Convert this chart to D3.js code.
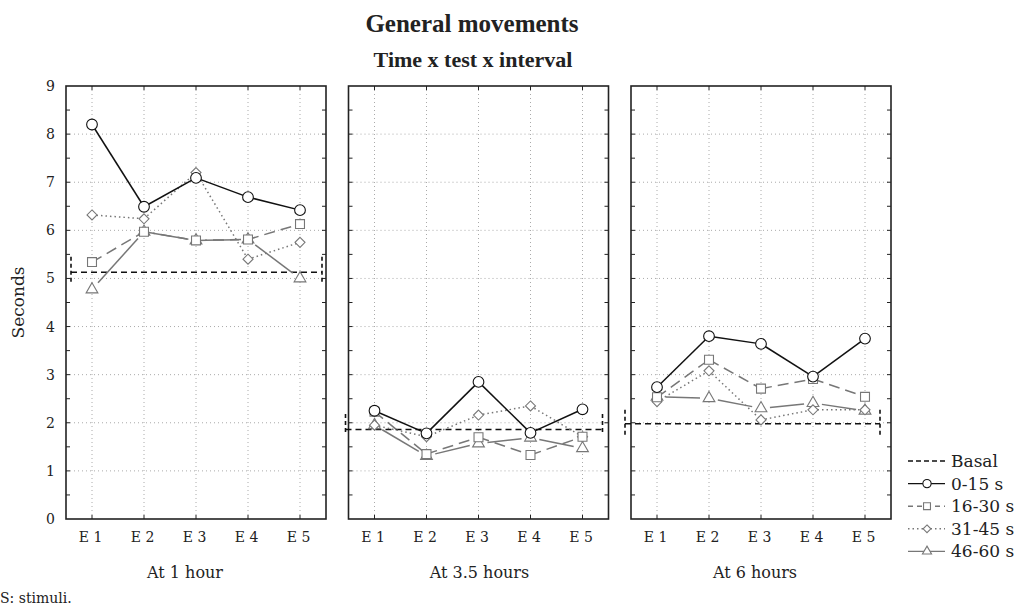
<!DOCTYPE html>
<html>
<head>
<meta charset="utf-8">
<script src="https://cdn.jsdelivr.net/npm/d3@7"></script>
<style>
  body { margin: 0; background: #fff; }
  text { font-family: "DejaVu Serif", serif; fill: #222; }
  .title { font-family: "Liberation Serif", serif; font-weight: bold; }
</style>
</head>
<body>
<div id="chart"></div>
<script>
// chart data
var panels = ["At 1 hour", "At 3.5 hours", "At 6 hours"];
var tests = ["E 1", "E 2", "E 3", "E 4", "E 5"];
var seriesNames = ["0-15 s", "16-30 s", "31-45 s", "46-60 s"];
var yTicks = [0, 1, 2, 3, 4, 5, 6, 7, 8, 9];

// values per panel, E1..E5
var s0to15 = [
  [8.2, 6.49, 7.09, 6.69, 6.42],
  [2.25, 1.78, 2.85, 1.79, 2.28],
  [2.74, 3.80, 3.64, 2.96, 3.75]
];
var s16to30 = [
  [5.34, 5.97, 5.79, 5.81, 6.13],
  [2.23, 1.35, 1.70, 1.33, 1.71],
  [2.53, 3.31, 2.71, 2.91, 2.54]
];
var s31to45 = [
  [6.32, 6.24, 7.20, 5.40, 5.75],
  [1.95, 1.71, 2.16, 2.35, 1.71],
  [2.44, 3.08, 2.06, 2.27, 2.27]
];
var s46to60 = [
  [4.77, 5.97, 5.79, 5.81, 5.00],
  [1.95, 1.31, 1.57, 1.69, 1.47],
  [2.54, 2.51, 2.30, 2.41, 2.25]
];
var basal = [5.13, 1.86, 1.98];
var basalHigh = [5.45, 2.18, 2.27];
var basalLow = [4.91, 1.81, 1.75];

var svgWidth = 1019;
var svgHeight = 608;

var svg = d3.select("#chart")
  .append("svg")
  .attr("width", svgWidth)
  .attr("height", svgHeight);

var panelLeft = [66, 348.5, 631];
var panelWidth = 260;
var plotTop = 86, plotBottom = 519;

// basal line horizontal extent, offsets from panel edges
var basalExtent = [[5, -4], [-3, -6], [-6, -11]];
// panel label nudges, as in the original
var labelShift = [-11, 1, -6];

var y = d3.scaleLinear().domain([0, 9]).range([plotBottom, plotTop]);

// diamond = square turned 45 degrees
var diamond = {
  draw: function(context, size) {
    var r = Math.sqrt(size) / Math.SQRT2;
    context.moveTo(0, -r);
    context.lineTo(r, 0);
    context.lineTo(0, r);
    context.lineTo(-r, 0);
    context.closePath();
  }
};

var styles = [
  { data: s0to15, color: "#111", dash: null, legendDash: null, shape: d3.symbolCircle, size: 90, gap: 0 },
  { data: s16to30, color: "#777", dash: "11,6", legendDash: "5,4", shape: d3.symbolSquare, size: 80, gap: 0 },
  { data: s31to45, color: "#777", dash: "1.5,3", legendDash: "1.5,3", shape: diamond, size: 50, gap: 0 },
  { data: s46to60, color: "#777", dash: null, legendDash: null, shape: d3.symbolTriangle, size: 60, gap: 9 }
];

// titles
svg.append("text")
  .attr("class", "title")
  .attr("x", 472).attr("y", 32)
  .attr("text-anchor", "middle")
  .attr("font-size", "25px")
  .text("General movements");

svg.append("text")
  .attr("class", "title")
  .attr("x", 473).attr("y", 67)
  .attr("text-anchor", "middle")
  .attr("font-size", "22px")
  .text("Time x test x interval");

// y axis title
svg.append("text")
  .attr("transform", "translate(24," + (plotTop + plotBottom) / 2 + ") rotate(-90)")
  .attr("text-anchor", "middle")
  .attr("font-size", "17px")
  .text("Seconds");

panels.forEach(function(name, p) {
  var x0 = panelLeft[p];
  var x = d3.scalePoint().domain(tests).range([x0, x0 + panelWidth]).padding(0.5);
  var g = svg.append("g");

  // dotted grid
  g.selectAll(".hgrid")
    .data(yTicks.slice(1, -1))
    .enter().append("line")
    .attr("x1", x0).attr("x2", x0 + panelWidth)
    .attr("y1", d => y(d)).attr("y2", d => y(d))
    .attr("stroke", "#aaa").attr("stroke-dasharray", "1,3");

  g.selectAll(".vgrid")
    .data(tests)
    .enter().append("line")
    .attr("x1", d => x(d)).attr("x2", d => x(d))
    .attr("y1", plotTop).attr("y2", plotBottom)
    .attr("stroke", "#aaa").attr("stroke-dasharray", "1,3");

  // inward ticks on all sides
  var halfTicks = d3.range(0.5, 9, 0.5);
  [x0, x0 + panelWidth].forEach(function(ex, i) {
    var dir = i === 0 ? 1 : -1;
    g.selectAll(null).data(halfTicks).enter().append("line")
      .attr("x1", ex).attr("x2", ex + dir * 4)
      .attr("y1", d => y(d)).attr("y2", d => y(d))
      .attr("stroke", "#222");
  });
  [plotTop, plotBottom].forEach(function(ey, i) {
    var dir = i === 0 ? 1 : -1;
    g.selectAll(null).data(tests).enter().append("line")
      .attr("x1", d => x(d)).attr("x2", d => x(d))
      .attr("y1", ey).attr("y2", ey + dir * 4)
      .attr("stroke", "#222");
  });

  // frame
  g.append("rect")
    .attr("x", x0).attr("y", plotTop)
    .attr("width", panelWidth).attr("height", plotBottom - plotTop)
    .attr("fill", "none").attr("stroke", "#222").attr("stroke-width", 1.6);

  // y labels on first panel only
  if (p === 0) {
    var yAxis = d3.axisLeft(y).tickValues(yTicks).tickSize(0).tickPadding(11);
    var ya = svg.append("g")
      .attr("transform", "translate(" + x0 + ",0)")
      .call(yAxis);
    ya.select(".domain").remove();
    ya.selectAll("text")
      .attr("font-size", "14px")
      .style("font-family", "DejaVu Serif, serif")
      .attr("fill", "#222");
  }

  // x tick labels
  var xAxis = d3.axisBottom(x).tickSize(0).tickPadding(13);
  var xa = svg.append("g")
    .attr("transform", "translate(-2," + plotBottom + ")")
    .call(xAxis);
  xa.select(".domain").remove();
  xa.selectAll("text")
    .attr("font-size", "14px")
    .style("font-family", "DejaVu Serif, serif")
    .attr("fill", "#222");

  // panel label
  svg.append("text")
    .attr("x", x0 + panelWidth / 2 + labelShift[p]).attr("y", 578)
    .attr("text-anchor", "middle")
    .attr("font-size", "16px")
    .text(name);

  // basal line with dashed end marks
  var bx1 = x0 + basalExtent[p][0];
  var bx2 = x0 + panelWidth + basalExtent[p][1];
  g.append("line")
    .attr("x1", bx1).attr("x2", bx2)
    .attr("y1", y(basal[p])).attr("y2", y(basal[p]))
    .attr("stroke", "#111").attr("stroke-width", 1.6)
    .attr("stroke-dasharray", "6,4");
  [bx1, bx2].forEach(function(bx) {
    g.append("line")
      .attr("x1", bx).attr("x2", bx)
      .attr("y1", y(basalHigh[p])).attr("y2", y(basalLow[p]))
      .attr("stroke", "#111").attr("stroke-width", 1.6)
      .attr("stroke-dasharray", "4,3");
  });

  // series lines then markers
  styles.slice().reverse().forEach(function(s) {
    var pts = s.data[p].map((v, i) => [x(tests[i]), y(v)]);
    for (var i = 0; i < pts.length - 1; i++) {
      var a = pts[i], b = pts[i + 1];
      var dx = b[0] - a[0], dy = b[1] - a[1];
      var len = Math.sqrt(dx * dx + dy * dy);
      var k = s.gap / len;
      g.append("line")
        .attr("x1", a[0] + dx * k).attr("y1", a[1] + dy * k)
        .attr("x2", b[0] - dx * k).attr("y2", b[1] - dy * k)
        .attr("stroke", s.color).attr("stroke-width", 1.5)
        .attr("stroke-dasharray", s.dash);
    }
  });
  styles.slice().reverse().forEach(function(s) {
    g.selectAll(null)
      .data(s.data[p])
      .enter().append("path")
      .attr("d", d3.symbol().type(s.shape).size(s.size))
      .attr("transform", (d, i) => "translate(" + x(tests[i]) + "," + y(d) + ")")
      .attr("fill", "#fff")
      .attr("stroke", s.color).attr("stroke-width", 1.1);
  });
});

// legend
var legend = svg.append("g").attr("transform", "translate(908,0)");
var legendRows = [{ name: "Basal", basal: true }].concat(styles.map((s, i) => Object.assign({ name: seriesNames[i] }, s)));
legendRows.forEach(function(r, i) {
  var ly = 461 + i * 22.6;
  legend.append("line")
    .attr("x1", 0).attr("x2", 37)
    .attr("y1", ly).attr("y2", ly)
    .attr("stroke", r.basal ? "#111" : r.color)
    .attr("stroke-width", 1.4)
    .attr("stroke-dasharray", r.basal ? "5,3" : r.legendDash);
  if (!r.basal) {
    legend.append("path")
      .attr("d", d3.symbol().type(r.shape).size(r.size * 0.6))
      .attr("transform", "translate(19," + ly + ")")
      .attr("fill", "#fff")
      .attr("stroke", r.color).attr("stroke-width", 1.1);
  }
  legend.append("text")
    .attr("x", 43).attr("y", ly + 6)
    .attr("font-size", "17px")
    .text(r.name);
});

// footnote
svg.append("text")
  .attr("x", 0).attr("y", 603)
  .attr("font-size", "14px")
  .text("S: stimuli.");
</script>
</body>
</html>
